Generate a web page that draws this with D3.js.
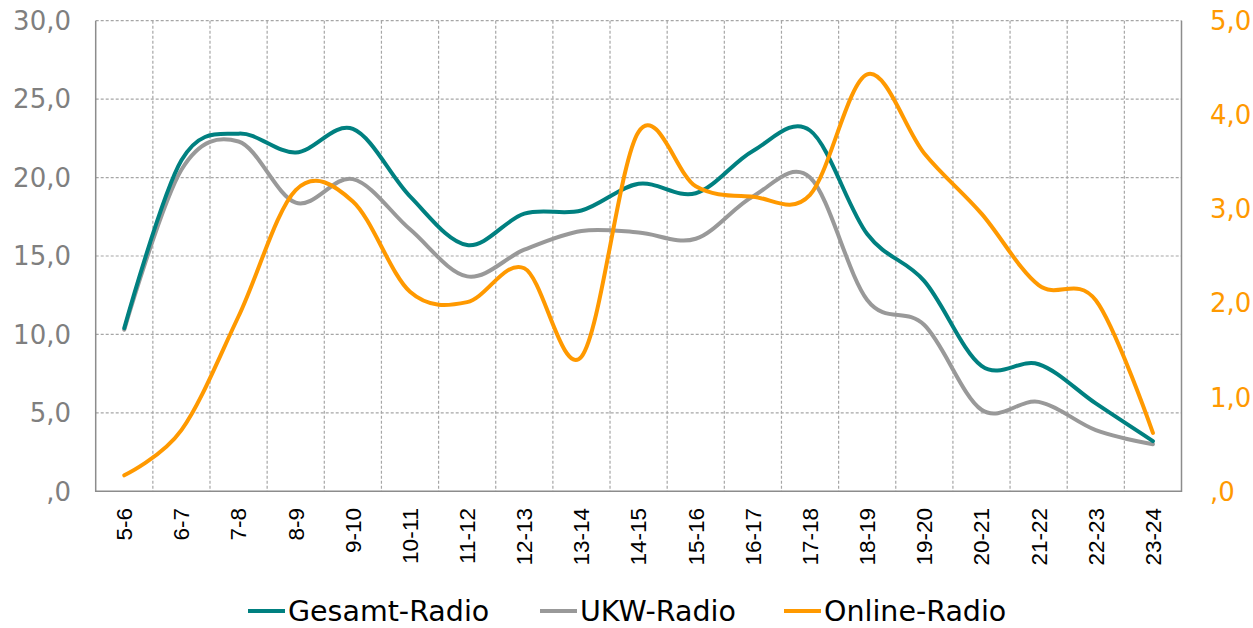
<!DOCTYPE html>
<html>
<head>
<meta charset="utf-8">
<script src="https://cdn.jsdelivr.net/npm/d3@7"></script>
<style>
  body { margin: 0; background: #fff; }
  svg { display: block; }
</style>
</head>
<body>
<script>
var categories = ["5-6", "6-7", "7-8", "8-9", "9-10", "10-11", "11-12", "12-13", "13-14", "14-15",
    "15-16", "16-17", "17-18", "18-19", "19-20", "20-21", "21-22", "22-23", "23-24"];
var gesamt = [10.4, 21.1, 22.8, 21.6, 23.1, 18.8, 15.7, 17.7, 17.9, 19.6, 19.0, 21.7, 23.0, 16.4, 13.4, 8.0, 8.1, 5.6, 3.2];
var ukw = [10.3, 20.5, 22.3, 18.4, 19.9, 16.7, 13.7, 15.4, 16.6, 16.5, 16.1, 18.8, 20.0, 12.2, 10.6, 5.2, 5.7, 3.9, 3.0];
var online = [0.17, 0.65, 1.86, 3.20, 3.08, 2.12, 2.01, 2.37, 1.43, 3.82, 3.24, 3.13, 3.15, 4.43, 3.59, 2.95, 2.19, 2.03, 0.62];
var leftTicks = [0, 5, 10, 15, 20, 25, 30];
var rightTicks = [0, 1, 2, 3, 4, 5];
var seriesNames = ["Gesamt-Radio", "UKW-Radio", "Online-Radio"];
var seriesColors = ["#008080", "#999999", "#ff9900"];

var W = 1253, H = 628;
var plotLeft = 95.7, plotRight = 1181.5, plotTop = 20.7, plotBottom = 491.3;

var svg = d3.select("body").append("svg").attr("width", W).attr("height", H);

var x = d3.scaleBand().domain(categories).range([plotLeft, plotRight]).padding(0);
var yL = d3.scaleLinear().domain([0, 30]).range([plotBottom, plotTop]);
var yR = d3.scaleLinear().domain([0, 5]).range([plotBottom, plotTop]);

function fmt(v) {
    var s = d3.format(".1f")(v).replace(".", ",");
    if (s.indexOf("0,") === 0) s = s.slice(1);
    return s;
}

// grid
var grid = svg.append("g")
    .attr("stroke", "#a6a6a6")
    .attr("stroke-width", 1.2)
    .attr("stroke-dasharray", "3,2");

grid.selectAll("line.h")
    .data(leftTicks.filter(function (d) { return d > 0; }))
    .enter().append("line")
    .attr("x1", plotLeft).attr("x2", plotRight)
    .attr("y1", function (d) { return yL(d); })
    .attr("y2", function (d) { return yL(d); });

grid.selectAll("line.v")
    .data(categories.slice(1))
    .enter().append("line")
    .attr("x1", function (d) { return x(d); })
    .attr("x2", function (d) { return x(d); })
    .attr("y1", plotTop).attr("y2", plotBottom);

// frame
svg.append("path")
    .attr("d", "M" + plotLeft + "," + plotTop + "V" + plotBottom + "H" + plotRight + "V" + plotTop)
    .attr("fill", "none")
    .attr("stroke", "#8c8c8c")
    .attr("stroke-width", 1.5);

// left axis labels
svg.append("g").selectAll("text")
    .data(leftTicks)
    .enter().append("text")
    .attr("x", 71)
    .attr("y", function (d) { return yL(d); })
    .attr("dy", "0.36em")
    .attr("text-anchor", "end")
    .attr("font-family", "DejaVu Sans")
    .attr("font-size", 26)
    .attr("fill", "#7f7f7f")
    .text(fmt);

// right axis labels
svg.append("g").selectAll("text")
    .data(rightTicks)
    .enter().append("text")
    .attr("x", 1210)
    .attr("y", function (d) { return yR(d); })
    .attr("dy", "0.36em")
    .attr("text-anchor", "start")
    .attr("font-family", "DejaVu Sans")
    .attr("font-size", 26)
    .attr("fill", "#ff9900")
    .text(fmt);

// x labels
svg.append("g").selectAll("text")
    .data(categories)
    .enter().append("text")
    .attr("transform", function (d) {
        return "translate(" + (x(d) + x.bandwidth() / 2) + ",508) rotate(-90)";
    })
    .attr("dy", "0.35em")
    .attr("text-anchor", "end")
    .attr("font-family", "Liberation Sans, Arial")
    .attr("font-size", 22.5)
    .attr("fill", "#000")
    .text(function (d) { return d; });

// lines
var curve = d3.curveCardinal.tension(0);
function lineFor(scale) {
    return d3.line()
        .x(function (d, i) { return x(categories[i]) + x.bandwidth() / 2; })
        .y(function (d) { return scale(d); })
        .curve(curve);
}

var allSeries = [
    { values: ukw, scale: yL, color: seriesColors[1] },
    { values: gesamt, scale: yL, color: seriesColors[0] },
    { values: online, scale: yR, color: seriesColors[2] }
];

svg.append("g").selectAll("path")
    .data(allSeries)
    .enter().append("path")
    .attr("d", function (s) { return lineFor(s.scale)(s.values); })
    .attr("fill", "none")
    .attr("stroke", function (s) { return s.color; })
    .attr("stroke-width", 4)
    .attr("stroke-linecap", "round");

// legend
var legendX = [248, 540, 784];
var legend = svg.append("g").selectAll("g")
    .data(seriesNames)
    .enter().append("g")
    .attr("transform", function (d, i) { return "translate(" + legendX[i] + ",611)"; });

legend.append("line")
    .attr("x1", 0).attr("x2", 37)
    .attr("stroke", function (d, i) { return seriesColors[i]; })
    .attr("stroke-width", 4);

legend.append("text")
    .attr("x", 40)
    .attr("dy", "0.34em")
    .attr("font-family", "DejaVu Sans")
    .attr("font-size", 28.5)
    .attr("fill", "#000")
    .text(function (d) { return d; });
</script>
</body>
</html>
